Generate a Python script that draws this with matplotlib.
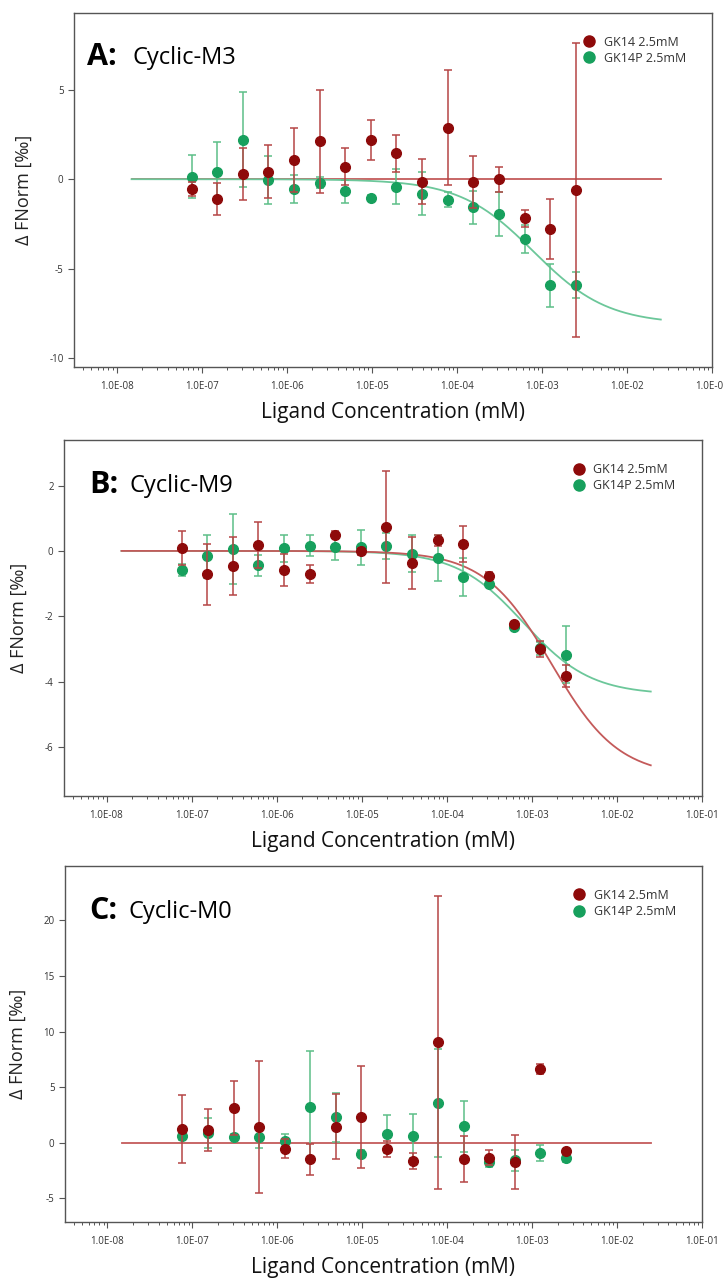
import numpy as np
import matplotlib
matplotlib.use("Agg")
import matplotlib.pyplot as plt
from matplotlib.lines import Line2D

plt.rcParams['font.family'] = ['Open Sans', 'DejaVu Sans']

# 2-fold serial dilution, top concentration 2.5 uM (in mM), 16 points
CONC = [7.63e-08, 1.53e-07, 3.05e-07, 6.10e-07, 1.22e-06, 2.44e-06, 4.88e-06, 9.77e-06,
        1.95e-05, 3.91e-05, 7.81e-05, 1.56e-04, 3.13e-04, 6.25e-04, 1.25e-03, 2.50e-03]

# panel A: Cyclic-M3
A_GK14 = [-0.56, -1.1, 0.28, 0.41, 1.08, 2.11, 0.71, 2.19, 1.44, -0.13, 2.88, -0.17, 0.0, -2.19, -2.78, -0.6]
A_GK14_ERR = [0.4, 0.9, 1.45, 1.48, 1.78, 2.86, 1.03, 1.14, 1.06, 1.24, 3.2, 1.46, 0.71, 0.47, 1.67, 8.2]
A_GK14P = [0.15, 0.43, 2.2, -0.04, -0.54, -0.19, -0.67, -1.03, -0.41, -0.82, -1.16, -1.57, -1.96, -3.33, -5.93, -5.94]
A_GK14P_ERR = [1.2, 1.64, 2.65, 1.34, 0.8, 0.3, 0.65, 0.15, 1.0, 1.2, 0.42, 0.93, 1.23, 0.78, 1.21, 0.73]
A_FIT_GK14 = None                       # flat line at 0
A_FIT_GK14P = (-8.1, 8.0e-4, 1.0)       # bottom, EC50, hill

# panel B: Cyclic-M9
B_GK14 = [0.09, -0.72, -0.45, 0.18, -0.58, -0.71, 0.5, -0.01, 0.74, -0.37, 0.33, 0.21, -0.76, -2.24, -3.0, -3.83]
B_GK14_ERR = [0.51, 0.92, 0.89, 0.71, 0.48, 0.28, 0.1, 0.1, 1.71, 0.81, 0.17, 0.56, 0.1, 0.08, 0.25, 0.34]
B_GK14P = [-0.59, -0.17, 0.06, -0.44, 0.08, 0.16, 0.11, 0.11, 0.16, -0.09, -0.21, -0.8, -1.0, -2.33, -2.98, -3.17]
B_GK14P_ERR = [0.18, 0.67, 1.07, 0.32, 0.41, 0.33, 0.38, 0.54, 0.4, 0.57, 0.7, 0.57, 0.08, 0.1, 0.2, 0.88]
B_FIT_GK14 = (-6.9, 1.7e-3, 1.1)
B_FIT_GK14P = (-4.4, 8.0e-4, 1.1)

# panel C: Cyclic-M0
C_GK14 = [1.26, 1.11, 3.15, 1.41, -0.54, -1.5, 1.44, 2.31, -0.57, -1.62, 9.04, -1.47, -1.35, -1.74, 6.67, -0.75]
C_GK14_ERR = [3.06, 1.9, 2.42, 5.9, 0.87, 1.4, 2.93, 4.6, 0.7, 0.72, 13.2, 2.1, 0.7, 2.43, 0.45, 0.2]
C_GK14P = [0.57, 0.9, 0.54, 0.48, 0.12, 3.24, 2.28, -0.99, 0.78, 0.57, 3.6, 1.47, -1.77, -1.6, -0.93, -1.41]
C_GK14P_ERR = [0.3, 1.35, 0.2, 1.0, 0.68, 5.0, 2.22, 0.3, 1.72, 1.98, 4.85, 2.3, 0.4, 0.95, 0.75, 0.35]
C_FIT_GK14 = None

FIT_RANGE = (1.5e-8, 2.5e-2)
LABELS = ["GK14 2.5mM", "GK14P 2.5mM"]
XTICKS = [1e-8, 1e-7, 1e-6, 1e-5, 1e-4, 1e-3, 1e-2, 1e-1]
XTICK_LABELS = ["1.0E-08", "1.0E-07", "1.0E-06", "1.0E-05", "1.0E-04", "1.0E-03", "1.0E-02", "1.0E-01"]

RED = "#8e0a0a"
RED_BAR = "#b54545"
RED_LINE = "#c45a5a"
GREEN = "#17a05d"
GREEN_BAR = "#5cbf88"
GREEN_LINE = "#6cc79a"
AXIS_GREY = "#555555"


def fit_curve(params):
    x = np.logspace(np.log10(FIT_RANGE[0]), np.log10(FIT_RANGE[1]), 300)
    if params is None:
        return x, np.zeros_like(x)
    bottom, ec50, hill = params
    return x, bottom / (1 + (ec50 / x) ** hill)


def draw_panel(ax, letter, name, red, red_err, green, green_err, red_fit, green_fit,
               ylim, yticks, green_line=True, green_on_top=False, title_x=(0.03, 0.1)):
    # fitted curves
    xr, yr = fit_curve(red_fit)
    ax.plot(xr, yr, color=RED_LINE, lw=1.3, zorder=3 if not green_on_top else 2)
    if green_line:
        xg, yg = fit_curve(green_fit)
        ax.plot(xg, yg, color=GREEN_LINE, lw=1.3, zorder=3 if green_on_top else 2)
    # data with error bars
    ax.errorbar(CONC, green, yerr=green_err, fmt='o', color=GREEN, ms=7, mec=GREEN,
                ecolor=GREEN_BAR, elinewidth=1.1, capsize=3, capthick=1.1, zorder=4)
    ax.errorbar(CONC, red, yerr=red_err, fmt='o', color=RED, ms=7, mec=RED,
                ecolor=RED_BAR, elinewidth=1.1, capsize=3, capthick=1.1, zorder=5)

    ax.set_xscale('log')
    ax.set_xlim(10 ** -8.5, 1e-1)
    ax.set_ylim(*ylim)
    ax.set_xticks(XTICKS)
    ax.set_xticklabels(XTICK_LABELS)
    ax.set_yticks(yticks)
    ax.set_yticklabels([str(t) for t in yticks])
    ax.tick_params(axis='both', which='major', direction='out', length=4, width=0.8,
                   colors=AXIS_GREY, labelsize=7, labelcolor="#333333")
    ax.tick_params(axis='x', which='minor', direction='out', length=2.5, width=0.7, colors=AXIS_GREY)
    ax.tick_params(axis='x', pad=6)
    for s in ax.spines.values():
        s.set_color(AXIS_GREY)
        s.set_linewidth(1.0)

    ax.set_xlabel("Ligand Concentration (mM)", fontsize=15, color="#111111", labelpad=7)
    ax.set_ylabel("Δ FNorm [‰]", fontsize=13, color="#222222", labelpad=12)

    ax.text(title_x[0], 0.875, letter, transform=ax.transAxes, fontsize=22, fontweight='bold',
            va='center', ha='left', color="black")
    ax.text(title_x[1], 0.872, name, transform=ax.transAxes, fontsize=17,
            va='center', ha='left', color="black")

    handles = [Line2D([], [], ls='none', marker='o', ms=8, color=RED),
               Line2D([], [], ls='none', marker='o', ms=8, color=GREEN)]
    ax.legend(handles, LABELS, loc='upper left', bbox_to_anchor=(0.78, 0.95), frameon=False,
              fontsize=9, handletextpad=0.15, borderaxespad=0, labelspacing=0.25,
              labelcolor="#333333")


fig = plt.figure(figsize=(7.23, 12.79), dpi=100)
ax_a = fig.add_axes([0.1024, 0.7131, 0.8824, 0.2768])
ax_b = fig.add_axes([0.0885, 0.3776, 0.8824, 0.2783])
ax_c = fig.add_axes([0.0899, 0.0446, 0.8810, 0.2783])

draw_panel(ax_a, "A:", "Cyclic-M3", A_GK14, A_GK14_ERR, A_GK14P, A_GK14P_ERR,
           A_FIT_GK14, A_FIT_GK14P, (-10.5, 9.3), [-10, -5, 0, 5],
           green_on_top=True, title_x=(0.021, 0.091))
draw_panel(ax_b, "B:", "Cyclic-M9", B_GK14, B_GK14_ERR, B_GK14P, B_GK14P_ERR,
           B_FIT_GK14, B_FIT_GK14P, (-7.5, 3.39), [-6, -4, -2, 0, 2],
           title_x=(0.039, 0.103))
draw_panel(ax_c, "C:", "Cyclic-M0", C_GK14, C_GK14_ERR, C_GK14P, C_GK14P_ERR,
           C_FIT_GK14, None, (-7.14, 24.9), [-5, 0, 5, 10, 15, 20],
           green_line=False, title_x=(0.038, 0.1))

fig.savefig("out.png", dpi=100)
